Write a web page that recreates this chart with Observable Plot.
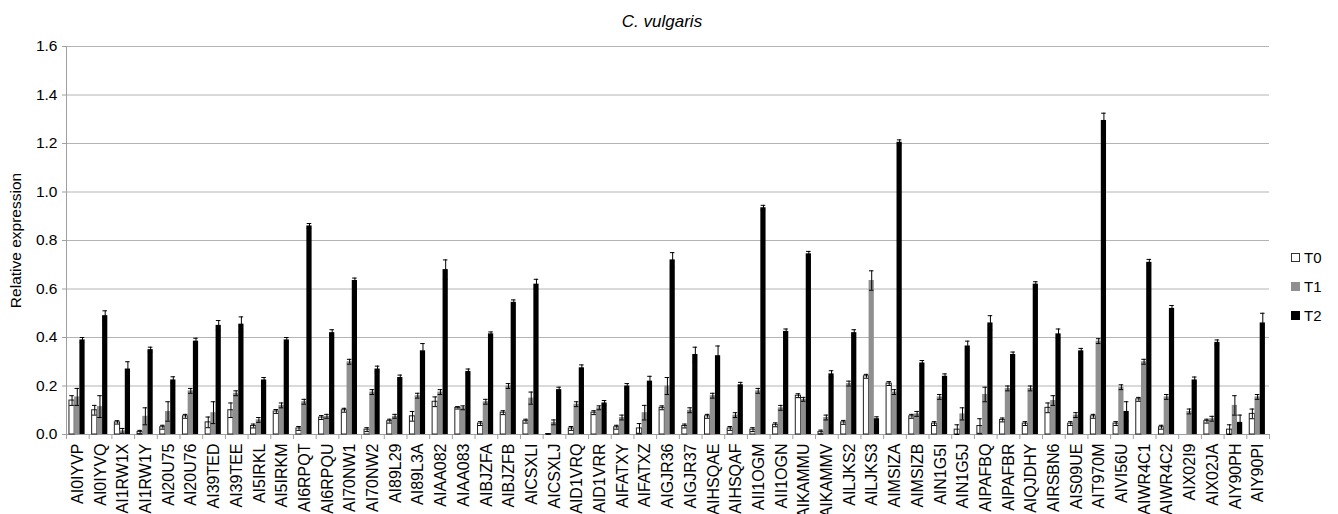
<!DOCTYPE html>
<html>
<head>
<meta charset="utf-8">
<script src="https://cdn.jsdelivr.net/npm/d3@7"></script>
<script src="https://cdn.jsdelivr.net/npm/@observablehq/plot@0.6"></script>
<style>
  body { margin: 0; background: #fff; font-family: "Liberation Sans", Arial, sans-serif; }
  #wrap { position: relative; width: 1338px; height: 514px; overflow: hidden; }
  #title { height: 36px; box-sizing: border-box; padding-top: 12px; line-height: 20px; font-size: 17px; font-style: italic; text-align: center; padding-right: 14px; }
  #legend { position: absolute; left: 1291px; top: 243px; font-size: 15px; }
  .item { display: flex; align-items: center; height: 29px; }
  .sw { width: 9px; height: 9px; box-sizing: border-box; margin-right: 4px; }
</style>
</head>
<body>
<div id="wrap">
  <div id="title">C. vulgaris</div>
  <div id="chart"></div>
  <div id="legend"></div>
</div>
<script>
const categories = ["AI0IYVP","AI0IYVQ","AI1RW1X","AI1RW1Y","AI20U75","AI20U76","AI39TED","AI39TEE","AI5IRKL","AI5IRKM",
  "AI6RPQT","AI6RPQU","AI70NW1","AI70NW2","AI89L29","AI89L3A","AIAA082","AIAA083","AIBJZFA","AIBJZFB",
  "AICSXLI","AICSXLJ","AID1VRQ","AID1VRR","AIFATXY","AIFATXZ","AIGJR36","AIGJR37","AIHSQAE","AIHSQAF",
  "AII1OGM","AII1OGN","AIKAMMU","AIKAMMV","AILJKS2","AILJKS3","AIMSIZA","AIMSIZB","AIN1G5I","AIN1G5J",
  "AIPAFBQ","AIPAFBR","AIQJDHY","AIRSBN6","AIS09UE","AIT970M","AIVI56U","AIWR4C1","AIWR4C2","AIX02I9",
  "AIX02JA","AIY90PH","AIY90PI"];

const seriesNames = ["T0", "T1", "T2"];

const t0 = [0.14,0.10,0.05,0.01,0.03,0.075,0.05,0.10,0.035,0.095,
  0.025,0.07,0.10,0.02,0.055,0.075,0.135,0.11,0.045,0.09,
  0.055,0.002,0.025,0.09,0.03,0.025,0.11,0.035,0.075,0.025,
  0.02,0.04,0.16,0.01,0.05,0.24,0.21,0.075,0.045,0.02,
  0.035,0.06,0.045,0.11,0.045,0.075,0.045,0.145,0.03,0,
  0.055,0.02,0.085];
const t0err = [0.02,0.02,0.007,0.007,0.008,0.008,0.022,0.03,0.008,0.008,
  0.008,0.008,0.008,0.008,0.008,0.02,0.02,0.005,0.008,0.008,
  0.008,0.001,0.008,0.008,0.008,0.02,0.008,0.008,0.008,0.008,
  0.008,0.008,0.008,0.008,0.008,0.008,0.008,0.008,0.008,0.02,
  0.03,0.008,0.008,0.02,0.008,0.008,0.008,0.008,0.008,0,
  0.008,0.02,0.02];

const t1 = [0.155,0.115,0.015,0.075,0.095,0.18,0.09,0.17,0.06,0.12,
  0.135,0.075,0.30,0.175,0.075,0.16,0.175,0.11,0.135,0.20,
  0.15,0.05,0.125,0.11,0.07,0.09,0.20,0.10,0.16,0.08,
  0.18,0.11,0.145,0.07,0.21,0.635,0.175,0.085,0.155,0.085,
  0.165,0.19,0.19,0.14,0.08,0.385,0.195,0.30,0.155,0.095,
  0.065,0.12,0.155];
const t1err = [0.035,0.045,0.01,0.035,0.04,0.01,0.045,0.01,0.01,0.01,
  0.01,0.008,0.01,0.01,0.008,0.01,0.01,0.008,0.01,0.01,
  0.025,0.01,0.01,0.008,0.01,0.03,0.035,0.01,0.01,0.01,
  0.01,0.01,0.008,0.01,0.01,0.04,0.01,0.01,0.01,0.025,
  0.03,0.01,0.01,0.02,0.01,0.01,0.01,0.01,0.01,0.01,
  0.01,0.04,0.01];

const t2 = [0.39,0.49,0.27,0.35,0.225,0.385,0.45,0.455,0.225,0.39,
  0.86,0.42,0.635,0.27,0.235,0.345,0.68,0.26,0.415,0.545,
  0.62,0.185,0.275,0.13,0.20,0.22,0.72,0.33,0.325,0.205,
  0.935,0.425,0.745,0.25,0.42,0.065,1.205,0.295,0.24,0.365,
  0.46,0.33,0.62,0.415,0.345,1.295,0.095,0.71,0.52,0.225,
  0.38,0.05,0.46];
const t2err = [0.01,0.02,0.03,0.01,0.013,0.012,0.02,0.03,0.01,0.01,
  0.01,0.012,0.01,0.012,0.01,0.03,0.04,0.01,0.008,0.01,
  0.02,0.01,0.012,0.01,0.01,0.02,0.03,0.03,0.04,0.01,
  0.01,0.01,0.01,0.013,0.012,0.008,0.01,0.01,0.01,0.02,
  0.03,0.01,0.01,0.02,0.01,0.03,0.04,0.012,0.012,0.012,
  0.01,0.03,0.04];

const yTicks = [0, 0.2, 0.4, 0.6, 0.8, 1.0, 1.2, 1.4, 1.6];
const seriesColors = ["#ffffff", "#8f8f8f", "#000000"];

// Build long table
const values = [t0, t1, t2];
const errors = [t0err, t1err, t2err];
const groupStart = 0.13, barW = 0.23;
const rows = [];
categories.forEach((c, i) => {
  seriesNames.forEach((s, k) => {
    const x1 = i + groupStart + k * barW;
    rows.push({i, cat: c, series: s, k, value: values[k][i], err: errors[k][i],
      x1, x2: x1 + barW, xc: x1 + barW / 2});
  });
});
const withErr = rows.filter(d => d.err > 0);
const boundaries = d3.range(0, categories.length + 1);
const centers = d3.range(0, categories.length).map(i => i + 0.5);

const chart = Plot.plot({
  width: 1338,
  height: 478,
  marginLeft: 66,
  marginRight: 69,
  marginTop: 10,
  marginBottom: 80,
  style: { fontFamily: "Liberation Sans, Arial, sans-serif", color: "#000", background: "#fff" },
  x: { domain: [0, categories.length], label: null },
  y: { domain: [0, 1.6], label: null },
  marks: [
    Plot.gridY(yTicks, { stroke: "#b4b4b4", strokeOpacity: 1 }),
    Plot.ruleX([0], { stroke: "#a0a0a0" }),
    Plot.ruleY([0], { stroke: "#a0a0a0" }),
    Plot.axisY(yTicks, { tickSize: 4, tickPadding: 5, stroke: "#a0a0a0", fontSize: 15.5,
      tickFormat: d3.format(".1f"), label: "Relative expression", labelAnchor: "center", labelOffset: 57, labelArrow: "none" }),
    Plot.axisX(boundaries, { tickSize: 5, stroke: "#a0a0a0", text: null, label: null }),
    Plot.axisX(centers, { tickSize: 0, tickPadding: 9, tickRotate: -90, fontSize: 16,
      tickFormat: d => categories[Math.floor(d)], label: null }),
    Plot.rectY(rows.filter(d => d.k === 0), { x1: "x1", x2: "x2", y: "value", fill: seriesColors[0], stroke: "#222", strokeWidth: 1 }),
    Plot.rectY(rows.filter(d => d.k === 1), { x1: "x1", x2: "x2", y: "value", fill: seriesColors[1] }),
    Plot.rectY(rows.filter(d => d.k === 2), { x1: "x1", x2: "x2", y: "value", fill: seriesColors[2] }),
    Plot.ruleX(withErr, { x: "xc", y1: d => d.value - d.err, y2: d => d.value + d.err, stroke: "#000", strokeWidth: 1 }),
    Plot.ruleY(withErr, { y: d => d.value + d.err, x1: d => d.xc - 0.1, x2: d => d.xc + 0.1, stroke: "#000", strokeWidth: 1 }),
    Plot.ruleY(withErr, { y: d => d.value - d.err, x1: d => d.xc - 0.1, x2: d => d.xc + 0.1, stroke: "#000", strokeWidth: 1 })
  ]
});
document.getElementById("chart").appendChild(chart);

// Legend
const legend = d3.select("#legend");
seriesNames.forEach((s, k) => {
  const item = legend.append("div").attr("class", "item");
  item.append("div").attr("class", "sw")
    .style("background", seriesColors[k])
    .style("border", k === 0 ? "1px solid #333" : "none");
  item.append("span").text(s);
});
</script>
</body>
</html>
